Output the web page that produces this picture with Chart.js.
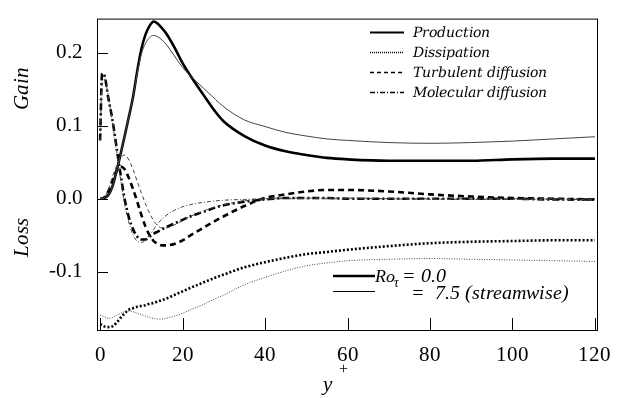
<!DOCTYPE html>
<html><head><meta charset="utf-8">
<script src="https://cdn.jsdelivr.net/npm/chart.js@4/dist/chart.umd.min.js"></script>
<style>
@font-face{font-family:'RefSerif';font-style:normal;src:local('Liberation Serif'),local('LiberationSerif'),local('Liberation Serif Regular'),local('LiberationSerif-Regular'),local('Tinos'),local('Tinos-Regular');}
@font-face{font-family:'RefSerif';font-style:italic;src:local('Liberation Serif Italic'),local('LiberationSerif-Italic'),local('Tinos Italic'),local('Tinos-Italic');}
@font-face{font-family:'RefSlabR';font-style:normal;src:local('DejaVu Serif'),local('DejaVuSerif');}
@font-face{font-family:'RefSlabR';font-style:italic;src:local('DejaVu Serif Italic'),local('DejaVuSerif-Italic');}
@font-face{font-family:'RefSlab';font-style:italic;src:local('DejaVu Serif Italic'),local('DejaVuSerif-Italic');}
html,body{margin:0;padding:0;background:#fff;}canvas{display:block;position:relative;}
#fl{position:absolute;left:0;top:0;color:#fff;white-space:nowrap;}</style>
</head><body>
<div id="fl"><span style="font:21px RefSerif">0.1</span> <span style="font:italic 21px RefSerif">Gain</span> <span style="font:italic 14px RefSlab">Production</span> <span style="font:21px RefSlabR">0</span> <span style="font:italic 21px RefSlabR">G</span></div>
<canvas id="c" width="626" height="398"></canvas>
<script>
// y+ sample positions
const yPlus = [0,0.5,1,2,3,4,5,6,7,8,9,10,11,12,13,14,15,16,18,20,22,25,28,30,35,40,45,50,55,60,70,80,90,100,110,120];
// Ro_tau = 0.0
const production0 = [0,0,0.001,0.005,0.017,0.038,0.062,0.087,0.113,0.14,0.175,0.205,0.225,0.237,0.243,0.24,0.234,0.227,0.208,0.186,0.168,0.143,0.119,0.106,0.086,0.073,0.065,0.06,0.056,0.054,0.052,0.052,0.052,0.054,0.055,0.055];
const dissipation0 = [-0.172,-0.173,-0.175,-0.176,-0.175,-0.17,-0.163,-0.157,-0.152,-0.15,-0.148,-0.147,-0.146,-0.144,-0.143,-0.141,-0.139,-0.137,-0.132,-0.127,-0.122,-0.115,-0.108,-0.104,-0.094,-0.087,-0.081,-0.076,-0.073,-0.07,-0.065,-0.061,-0.059,-0.058,-0.057,-0.057];
const turbulent0 = [0,0,0.002,0.01,0.025,0.038,0.044,0.04,0.028,0.013,-0.004,-0.022,-0.038,-0.05,-0.058,-0.062,-0.064,-0.064,-0.062,-0.057,-0.05,-0.04,-0.03,-0.024,-0.01,0.001,0.006,0.01,0.012,0.012,0.01,0.006,0.003,0.001,0,-0.001];
const molecular0 = [0.08,0.172,0.17,0.138,0.108,0.07,0.032,-0.002,-0.026,-0.042,-0.052,-0.056,-0.056,-0.052,-0.048,-0.045,-0.042,-0.039,-0.034,-0.029,-0.024,-0.018,-0.012,-0.009,-0.004,-0.001,0.001,0.001,0.001,0,0,0,0,0,-0.001,-0.001];
// Ro_tau = 7.5 (streamwise)
const production75 = [0,0,0.001,0.005,0.017,0.038,0.062,0.087,0.113,0.14,0.172,0.198,0.213,0.221,0.224,0.222,0.218,0.212,0.196,0.18,0.168,0.152,0.136,0.126,0.108,0.099,0.091,0.086,0.082,0.08,0.077,0.076,0.077,0.079,0.082,0.085];
const dissipation75 = [-0.16,-0.161,-0.162,-0.164,-0.163,-0.16,-0.157,-0.155,-0.154,-0.155,-0.157,-0.159,-0.161,-0.163,-0.164,-0.165,-0.165,-0.164,-0.161,-0.157,-0.152,-0.145,-0.137,-0.132,-0.118,-0.108,-0.099,-0.092,-0.088,-0.085,-0.083,-0.082,-0.083,-0.084,-0.085,-0.086];
const turbulent75 = [0,0,0.002,0.012,0.03,0.045,0.056,0.06,0.053,0.04,0.024,0.008,-0.007,-0.02,-0.03,-0.037,-0.04,-0.04,-0.036,-0.03,-0.024,-0.017,-0.011,-0.008,-0.003,0,0.001,0.001,0.001,0.001,0,-0.001,-0.001,-0.001,-0.001,-0.001];
const molecular75 = [0.08,0.16,0.165,0.14,0.105,0.065,0.025,-0.008,-0.033,-0.05,-0.058,-0.06,-0.057,-0.05,-0.042,-0.034,-0.028,-0.023,-0.016,-0.011,-0.008,-0.005,-0.003,-0.002,-0.001,0,0,0,0,0,0,0,0,0,0,0];

const xTicks = [0,20,40,60,80,100,120];
const yTicks = [-0.1,0,0.1,0.2];
const termNames = ['Production','Dissipation','Turbulent diffusion','Molecular diffusion'];
const caseLabels = ['Ro','= 0.0','=  7.5 (streamwise)'];

const pts = arr => arr.map((v,i)=>({x:yPlus[i], y:v}));
const thickW = 2.6, thinW = 1;
const styles = {
  production: {thick:[], thin:[]},
  dissipation: {thick:[2,2], thin:[1,1.5]},
  turbulent: {thick:[6,4], thin:[4,3]},
  molecular: {thick:[7,3,2,3], thin:[4,2,1,2]}
};
function ds(arr, dash, w, col){
  return {data:pts(arr), borderColor:col, borderWidth:w, borderDash:dash, pointRadius:0, fill:false, cubicInterpolationMode:'monotone'};
}
const thinCol = '#444';
const datasets = [
  ds(production75, styles.production.thin, thinW, thinCol),
  ds(dissipation75, styles.dissipation.thin, thinW, thinCol),
  ds(turbulent75, styles.turbulent.thin, thinW, thinCol),
  ds(molecular75, styles.molecular.thin, thinW, thinCol),
  ds(production0, styles.production.thick, thickW, '#000'),
  ds(dissipation0, styles.dissipation.thick, thickW, '#000'),
  ds(turbulent0, styles.turbulent.thick, thickW, '#000'),
  ds(molecular0, styles.molecular.thick, thickW, '#000')
];

const serif = "RefSerif, RefSlabR, 'Liberation Serif'";
const legendSerif = "RefSlab, 'DejaVu Serif'";

const decor = {
  id:'decor',
  afterDraw(chart){
    const {ctx, chartArea:a, scales} = chart;
    const xs = scales.x, ys = scales.y;
    ctx.save();
    ctx.strokeStyle = '#000';
    ctx.lineWidth = 1;
    ctx.strokeRect(a.left+0.5, a.top+0.5, a.right-a.left, a.bottom-a.top);
    ctx.beginPath();
    yTicks.forEach(t=>{ const p = Math.round(ys.getPixelForValue(t))+0.5; ctx.moveTo(a.left, p); ctx.lineTo(a.left+11, p); });
    xTicks.forEach(t=>{ const p = Math.round(xs.getPixelForValue(t))+0.5; ctx.moveTo(p, a.bottom); ctx.lineTo(p, a.bottom-12); });
    ctx.stroke();
    const lx0 = 370, lx1 = 404, tx = 413;
    const rows = [32,52,72,92];
    const dashes = [[],[1,1],[4,3],[5,2,1,2]];
    const widths = [2,1.5,1.5,1.5];
    ctx.fillStyle = '#000';
    ctx.font = 'italic 14px ' + legendSerif;
    ctx.textBaseline = 'alphabetic';
    ctx.textAlign = 'left';
    termNames.forEach((n,i)=>{
      ctx.beginPath(); ctx.setLineDash(dashes[i]); ctx.lineWidth = widths[i];
      ctx.moveTo(lx0, rows[i]+0.5); ctx.lineTo(lx1, rows[i]+0.5); ctx.stroke();
      ctx.setLineDash([]);
      ctx.fillText(n, tx, rows[i]+5);
    });
    ctx.beginPath(); ctx.lineWidth = 2.6; ctx.moveTo(333,276); ctx.lineTo(375,276); ctx.stroke();
    ctx.beginPath(); ctx.lineWidth = 1; ctx.moveTo(333,291.5); ctx.lineTo(375,291.5); ctx.stroke();
    ctx.font = 'italic 18px ' + serif;
    ctx.fillText(caseLabels[0], 375, 282);
    ctx.font = 'italic 13px ' + serif;
    ctx.fillText('\u03C4', 394, 287);
    ctx.font = 'italic 20px ' + serif;
    ctx.fillText(caseLabels[1], 402, 282);
    ctx.fillText(caseLabels[2], 411, 299);
    ctx.font = 'italic 21px ' + serif;
    ctx.textAlign = 'center';
    ctx.fillText('y', 327, 391);
    ctx.font = '16px ' + serif;
    ctx.fillText('+', 343, 374);
    ctx.font = 'italic 21px ' + serif;
    ctx.textBaseline = 'middle';
    ctx.save(); ctx.translate(22, 88); ctx.rotate(-Math.PI/2); ctx.fillText('Gain', 0, 0); ctx.restore();
    ctx.save(); ctx.translate(22, 237); ctx.rotate(-Math.PI/2); ctx.fillText('Loss', 0, 0); ctx.restore();
    ctx.restore();
  }
};

const chart = new Chart(document.getElementById('c'), {
  type:'line',
  data:{datasets},
  options:{
    responsive:false, animation:false, devicePixelRatio:1,
    layout:{padding:{top:7, right:29, left:0, bottom:0}},
    plugins:{legend:{display:false}, tooltip:{enabled:false}},
    scales:{
      x:{type:'linear', min:-0.75, max:120.5,
        grid:{display:false}, border:{display:false},
        afterFit(s){ s.height = 68; },
        afterBuildTicks(s){ s.ticks = xTicks.map(v=>({value:v})); },
        ticks:{color:'#000', font:{family:serif, size:21}, padding:5, maxRotation:0, autoSkip:false, callback:v=>String(v)}
      },
      y:{type:'linear', min:-0.18, max:0.247,
        grid:{display:false}, border:{display:false},
        afterFit(s){ s.width = 97; },
        afterBuildTicks(s){ s.ticks = yTicks.map(v=>({value:v})); },
        ticks:{color:'#000', font:{family:serif, size:21}, padding:6, autoSkip:false, callback:v=>v.toFixed(1)}
      }
    }
  },
  plugins:[decor]
});
if (document.fonts) {
  Promise.all([
    document.fonts.load('21px RefSerif'),
    document.fonts.load('italic 21px RefSerif'),
    document.fonts.load('21px RefSlabR'),
    document.fonts.load('italic 21px RefSlabR'),
    document.fonts.load('italic 14px RefSlab')
  ]).then(()=>chart.update('none'), ()=>chart.update('none'));
}
</script>
</body></html>
